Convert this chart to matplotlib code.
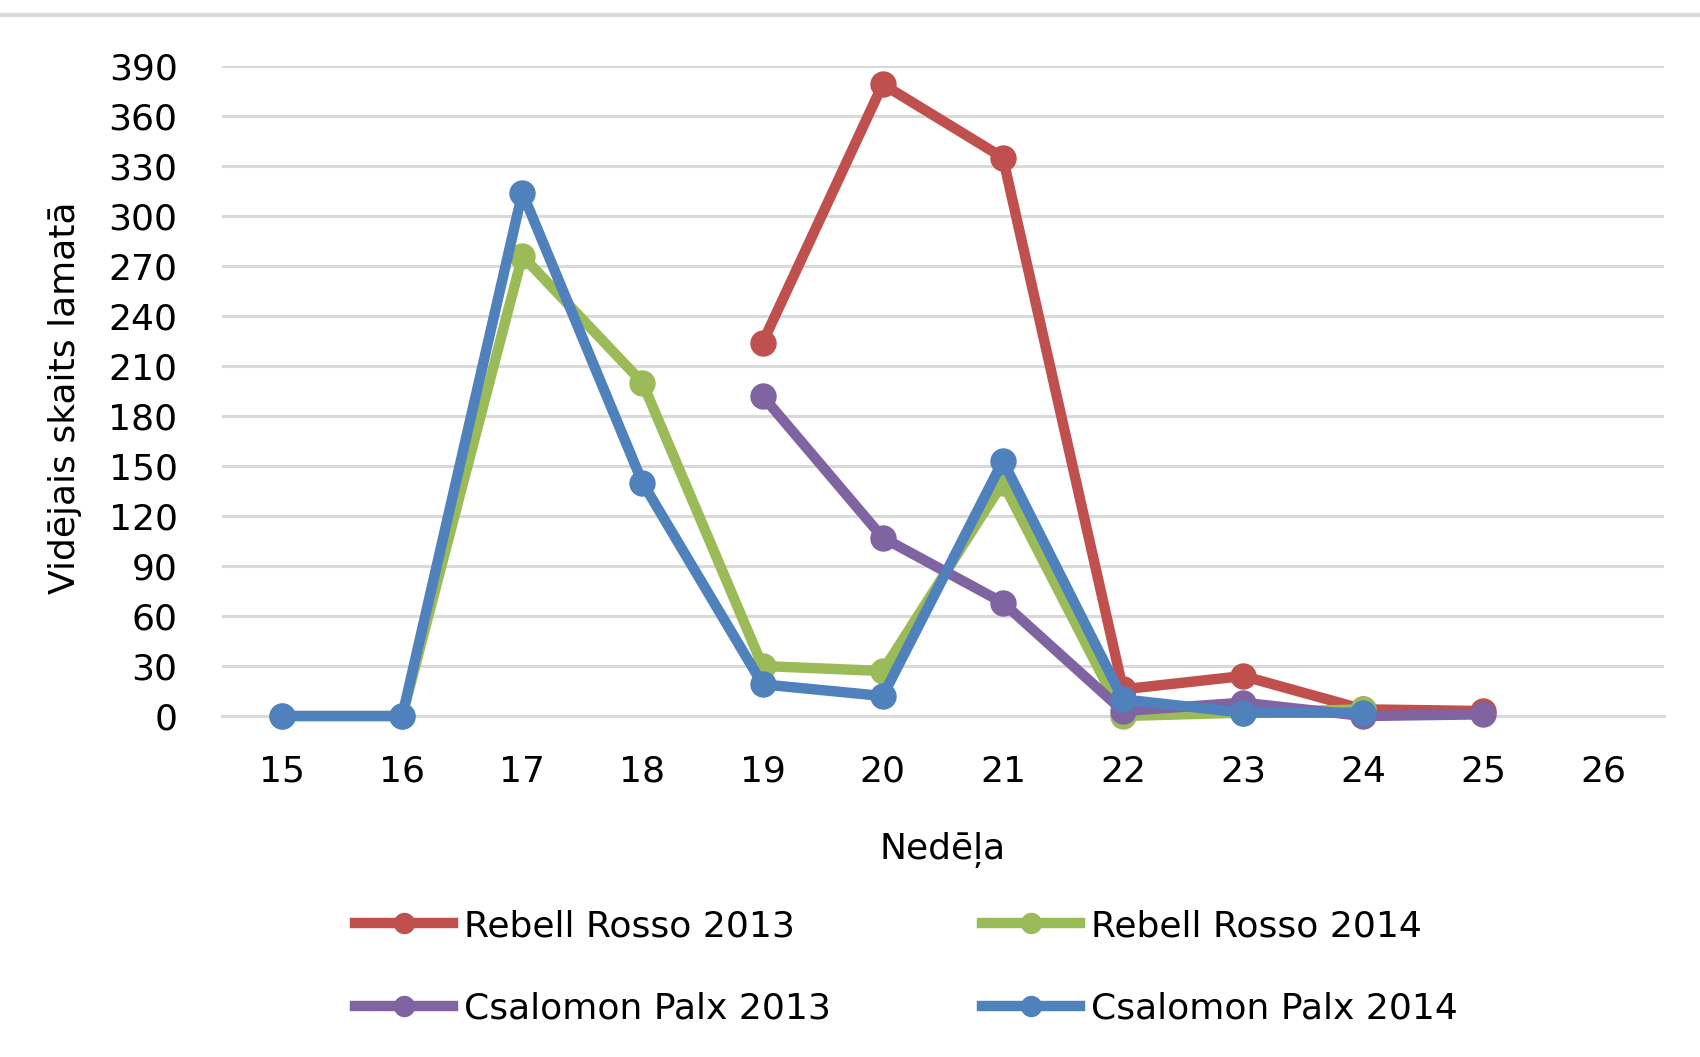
import matplotlib
matplotlib.use("Agg")
import matplotlib.pyplot as plt
import numpy as np

# weeks on a category axis
weeks = ["15", "16", "17", "18", "19", "20", "21", "22", "23", "24", "25", "26"]

rebell_2013 = [None, None, None, None, 224, 379, 335, 16, 24, 4, 3, None]
rebell_2014 = [0, 0, 276, 200, 30, 27, 140, 0, 2, 4, None, None]
csalomon_2013 = [None, None, None, None, 192, 107, 68, 3, 8, 0, 1, None]
csalomon_2014 = [0, 0, 314, 140, 19, 12, 153, 10, 2, 2, None, None]

series = [
    ("Rebell Rosso 2013", rebell_2013, "#C0504D"),
    ("Rebell Rosso 2014", rebell_2014, "#9BBB59"),
    ("Csalomon Palx 2013", csalomon_2013, "#8064A2"),
    ("Csalomon Palx 2014", csalomon_2014, "#4F81BD"),
]

plt.rcParams['font.family'] = ['DejaVu Sans']
fs = 26

fig = plt.figure(figsize=(17, 10.57), dpi=100)
ax = fig.add_axes([0.1306, 0.3226, 0.848, 0.615])

x = np.arange(len(weeks))
handles = {}
for name, vals, col in series:
    y = np.array([np.nan if v is None else v for v in vals], dtype=float)
    h, = ax.plot(x, y, color=col, lw=7.5, marker="o", ms=18,
                 clip_on=False, zorder=3, solid_joinstyle="round")
    handles[name] = h

ax.set_xlim(-0.5, len(weeks) - 0.5)
ax.set_ylim(0, 390)
ax.set_yticks(np.arange(0, 391, 30))
ax.set_xticks(x)
ax.set_xticklabels(weeks)
ax.grid(axis="y", color="#D9D9D9", lw=2.2, zorder=0)
ax.set_axisbelow(True)
for s in ["left", "right", "top"]:
    ax.spines[s].set_visible(False)
ax.spines["bottom"].set_color("#D9D9D9")
ax.spines["bottom"].set_linewidth(2.2)
ax.tick_params(length=0, labelsize=fs)
ax.tick_params(axis="y", pad=32)
ax.tick_params(axis="x", pad=28)

ax.set_ylabel("Vidējais skaits lamatā", fontsize=fs)
ax.yaxis.set_label_coords(-0.097, 0.49)
ax.set_xlabel("Nedēļa", fontsize=fs)
ax.xaxis.set_label_coords(0.5, -0.178)

order = ["Rebell Rosso 2013", "Csalomon Palx 2013", "Rebell Rosso 2014", "Csalomon Palx 2014"]
ax.legend([handles[n] for n in order], order, ncol=2, frameon=False,
          fontsize=fs, loc="upper left", bbox_to_anchor=(0.07, -0.247),
          handlelength=2.7, handletextpad=0.3, columnspacing=4.2,
          labelspacing=1.35, numpoints=1, markerscale=0.8)

# thin border line along the top of the chart area
fig.add_artist(plt.Line2D([0, 1], [0.986, 0.986], color="#D9D9D9", lw=3,
                          transform=fig.transFigure))

fig.savefig("out.png", dpi=100)
